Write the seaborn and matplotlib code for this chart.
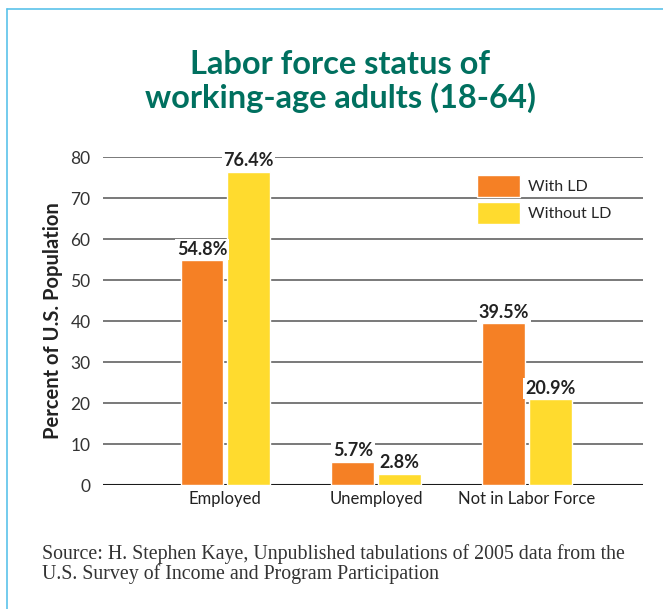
import pandas as pd
import numpy as np
import seaborn as sns
import matplotlib.pyplot as plt
from matplotlib.lines import Line2D
from matplotlib.patches import Patch

# values
categories = ['Employed', 'Unemployed', 'Not in Labor Force']
groups = ['With LD', 'Without LD']
with_ld = [54.8, 5.7, 39.5]
without_ld = [76.4, 2.8, 20.9]
y_ticks = [0, 10, 20, 30, 40, 50, 60, 70, 80]

data = pd.DataFrame({
    'status': categories * 2,
    'group': [groups[0]] * 3 + [groups[1]] * 3,
    'percent': with_ld + without_ld,
})

sns.set_style('white')
plt.rcParams['font.family'] = ['Lato', 'DejaVu Sans']

orange = '#F58025'
yellow = '#FFDB2E'
teal = '#00705F'

fig = plt.figure(figsize=(6.63, 6.09), dpi=100)
ax = fig.add_axes([0.1554, 0.2036, 0.8146, 0.5384])

sns.barplot(data=data, x='status', y='percent', hue='group',
            palette=[orange, yellow], width=0.616, gap=0.075,
            saturation=1, ax=ax, legend=False, zorder=3)

# gridlines
for t in y_ticks:
    ax.axhline(t, color='#1a1a1a' if t == 0 else '#555555',
               lw=1.5 if t == 0 else 1.1, zorder=1)

ax.set_ylim(0, 80)
ax.set_xlim(-0.81, 2.77)
ax.set_yticks(y_ticks)
ax.set_yticklabels([str(t) for t in y_ticks], fontsize=12.5, color='#333333')
ax.tick_params(axis='y', length=0, pad=9)
ax.tick_params(axis='x', length=0, pad=4, labelsize=12, labelcolor='#222222')
for s in ax.spines.values():
    s.set_visible(False)
ax.set_xlabel('')
ax.set_ylabel('Percent of U.S. Population', fontsize=14.5, fontweight='bold',
              color='#222222')
ax.yaxis.set_label_coords(-0.074, 0.5)

# value labels
for cont in ax.containers:
    for bar in cont:
        h = bar.get_height()
        ax.text(bar.get_x() + bar.get_width() / 2, h + 0.6, f'{h:.1f}%',
                ha='center', va='bottom', fontsize=13, fontweight='bold',
                color='#222222', zorder=4,
                bbox=dict(facecolor='white', edgecolor='none', pad=1.2))

handles = [Patch(facecolor=orange), Patch(facecolor=yellow)]
ax.legend(handles, groups, loc='upper left', bbox_to_anchor=(0.665, 0.99),
          frameon=False, handlelength=2.7, handleheight=1.75,
          handletextpad=0.5, labelspacing=0.3, fontsize=11.5)

fig.text(0.513, 0.866, 'Labor force status of\nworking-age adults (18-64)',
         ha='center', va='center', fontsize=23.5, fontweight='bold',
         color=teal, linespacing=1.15)

fig.text(0.064, 0.074,
         'Source: H. Stephen Kaye, Unpublished tabulations of 2005 data from the\n'
         'U.S. Survey of Income and Program Participation',
         ha='left', va='center', fontsize=14.3, color='#333333',
         family=['Liberation Serif', 'DejaVu Serif'], linespacing=1.0)

# light blue frame on the top and left
border = '#5BC2EA'
fig.add_artist(Line2D([7 / 663, 1], [1 - 9 / 609, 1 - 9 / 609],
                      color=border, lw=1.2, transform=fig.transFigure))
fig.add_artist(Line2D([7 / 663, 7 / 663], [0, 1 - 9 / 609],
                      color=border, lw=1.2, transform=fig.transFigure))

fig.savefig('out.png', dpi=100)
